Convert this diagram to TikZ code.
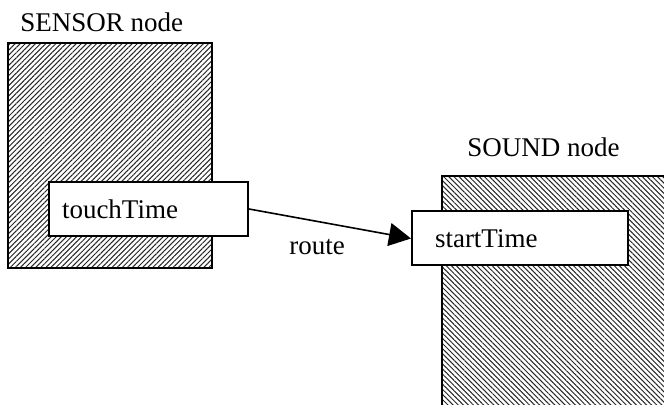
\documentclass[tikz,border=0pt]{standalone}
\usepackage{fontspec}
\setmainfont{Liberation Serif}
\usetikzlibrary{arrows.meta,patterns.meta}

\tikzset{
  hatchbox/.style={draw,line width=1pt,pattern={Lines[angle=#1,distance=1.8pt,line width=0.5pt]},pattern color=black!85},
  fieldbox/.style={draw,fill=white,line width=1pt,rectangle,align=left,minimum height=27pt,anchor=center},
  route/.style={line width=0.8pt,-{Triangle[length=11pt,width=11.5pt]}}
}

\begin{document}
\begin{tikzpicture}[x=0.5pt,y=-0.5pt,font=\fontsize{13.5}{15}\selectfont]
	\clip (0,0) rectangle (664,405);
	\fill[white] (0,0) rectangle (664,405);
	% the two scene nodes
	\node[hatchbox=45,minimum width=102pt,minimum height=112.5pt] (sensor) at (110,155.5) {};
	\node[anchor=base west,inner sep=0pt] (sensorlabel) at (20,32) {SENSOR node};
	\fill[pattern={Lines[angle=-45,distance=1.8pt,line width=0.5pt]},pattern color=black!85] (442,176) rectangle (680,420);
	\draw[line width=1pt] (442,420) coordinate (soundbl) -- (442,176) coordinate (soundtl) -- (680,176);
	\node[anchor=base west,inner sep=0pt] (soundlabel) at (467,157) {SOUND node};
	% fields
	\node[fieldbox,minimum width=99.5pt,inner xsep=6.5pt,text width=86.5pt] (touch) at (148.5,209) {touchTime};
	\node[fieldbox,minimum width=108pt,inner xsep=11.5pt,text width=85pt] (start) at (520,238.5) {startTime};
	% the route between them
	\draw[route] (touch.east) -- node[pos=0.42,below=5pt] {route} (start.west);
\end{tikzpicture}
\end{document}
